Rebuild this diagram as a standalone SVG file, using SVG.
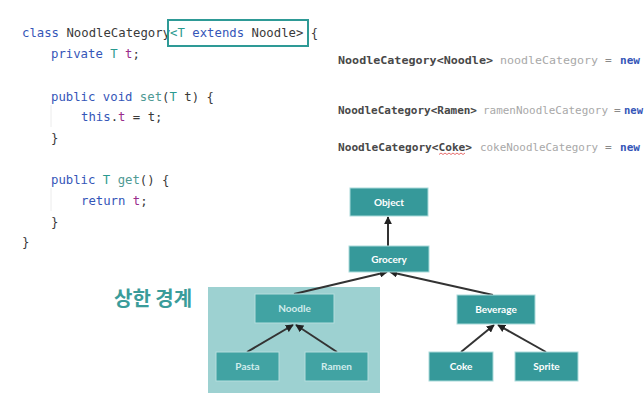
<svg xmlns="http://www.w3.org/2000/svg" width="644" height="401" viewBox="0 0 644 401">
<defs>
<style>
.code{font-family:"DejaVu Sans Mono","Liberation Mono",monospace;font-size:12.3px;fill:#3a3a3a;white-space:pre}
.code2{font-family:"DejaVu Sans Mono","Liberation Mono",monospace;font-size:11.2px;fill:#484848;white-space:pre;font-weight:bold}
.kw{fill:#3556b8}
.tp{fill:#2a9a90}
.fd{fill:#9a2c8c}
.mt{fill:#4f9a94}
.vr{fill:#a8a8a8;font-weight:normal}
.op{fill:#8a8a8a;font-weight:normal}
.node rect{fill:#36999a;stroke:#a9dada;stroke-width:1}
.node text{font-family:Lato,"Noto Sans",sans-serif;font-size:10px;font-weight:bold;fill:#ffffff;text-anchor:middle}
.inner rect{fill:#41a3a3;stroke:#b5dede}
.inner text{fill:#d2ecec}
.edge{stroke:#333;stroke-width:2;fill:none;marker-end:url(#ah)}
</style>
<marker id="ah" viewBox="0 0 10 10" refX="9" refY="5" markerWidth="4" markerHeight="4" orient="auto">
<path d="M0,0 L10,5 L0,10 z" fill="#222"/>
</marker>
</defs>
<rect width="644" height="401" fill="#ffffff"/>

<g id="code-left">
<line x1="51" y1="105" x2="51" y2="127" stroke="#ececec" stroke-width="1"/>
<line x1="51" y1="188" x2="51" y2="211" stroke="#ececec" stroke-width="1"/>
<text class="code" x="22" y="37"><tspan class="kw">class</tspan> NoodleCategory<tspan class="tp">&lt;T</tspan> <tspan class="kw">extends</tspan> Noodle&gt; {</text>
<text class="code" x="51" y="58"><tspan class="kw">private</tspan> <tspan class="tp">T</tspan> <tspan class="fd">t</tspan>;</text>
<text class="code" x="51" y="101"><tspan class="kw">public void</tspan> <tspan class="mt">set</tspan>(<tspan class="tp">T</tspan> t) {</text>
<text class="code" x="81" y="121"><tspan class="kw">this</tspan>.<tspan class="fd">t</tspan> = t;</text>
<text class="code" x="51" y="142">}</text>
<text class="code" x="51" y="184"><tspan class="kw">public</tspan> <tspan class="tp">T</tspan> <tspan class="mt">get</tspan>() {</text>
<text class="code" x="81" y="205"><tspan class="kw">return</tspan> <tspan class="fd">t</tspan>;</text>
<text class="code" x="51" y="226">}</text>
<text class="code" x="22" y="246">}</text>
<rect x="168" y="20" width="140" height="26" fill="none" stroke="#2e9a96" stroke-width="2"/>
</g>

<g id="code-right">
<text class="code2" y="64"><tspan x="338" textLength="155" lengthAdjust="spacingAndGlyphs">NoodleCategory&lt;Noodle&gt;</tspan><tspan class="vr" x="500" textLength="98" lengthAdjust="spacingAndGlyphs">noodleCategory</tspan><tspan class="op" x="605">=</tspan><tspan class="kw" x="620" textLength="20" lengthAdjust="spacingAndGlyphs">new</tspan></text>
<text class="code2" y="114"><tspan x="338" textLength="139" lengthAdjust="spacingAndGlyphs">NoodleCategory&lt;Ramen&gt;</tspan><tspan class="vr" x="483" textLength="125" lengthAdjust="spacingAndGlyphs">ramenNoodleCategory</tspan><tspan class="op" x="614">=</tspan><tspan class="kw" x="624" textLength="19" lengthAdjust="spacingAndGlyphs">new</tspan></text>
<text class="code2" y="151"><tspan x="338" textLength="134" lengthAdjust="spacingAndGlyphs">NoodleCategory&lt;Coke&gt;</tspan><tspan class="vr" x="480" textLength="118" lengthAdjust="spacingAndGlyphs">cokeNoodleCategory</tspan><tspan class="op" x="605">=</tspan><tspan class="kw" x="620" textLength="20" lengthAdjust="spacingAndGlyphs">new</tspan></text>
<path d="M439,154.5 l2,-1.5 l2,1.5 l2,-1.5 l2,1.5 l2,-1.5 l2,1.5 l2,-1.5 l2,1.5 l2,-1.5 l2,1.5 l2,-1.5 l2,1.5 l2,-1.5" fill="none" stroke="#e04848" stroke-width="0.8"/>
</g>

<g id="upper-bound">
<rect x="208" y="287" width="172" height="106" fill="#9dd1d1"/>
<text x="114" y="306" font-family="'Noto Sans CJK KR',sans-serif" font-size="20" font-weight="bold" fill="#3a9c9a">상한 경계</text>
</g>

<g id="connectors">
<line class="edge" x1="388" y1="246" x2="388" y2="217"/>
<line class="edge" x1="294" y1="294" x2="387" y2="272"/>
<line class="edge" x1="493" y1="295" x2="390" y2="272"/>
<line class="edge" x1="247" y1="352" x2="293" y2="325"/>
<line class="edge" x1="337" y1="352" x2="296" y2="325"/>
<line class="edge" x1="461" y1="352" x2="494" y2="325"/>
<line class="edge" x1="546" y1="352" x2="498" y2="325"/>
</g>

<g id="object" class="node"><rect x="350" y="188" width="78" height="28"/><text x="389" y="206">Object</text></g>
<g id="grocery" class="node"><rect x="349" y="246" width="80" height="26"/><text x="389" y="263">Grocery</text></g>
<g id="noodle" class="node inner"><rect x="255" y="294" width="79" height="29"/><text x="294.5" y="312">Noodle</text></g>
<g id="pasta" class="node inner"><rect x="216" y="352" width="63" height="29"/><text x="247.5" y="370">Pasta</text></g>
<g id="ramen" class="node inner"><rect x="305" y="352" width="63" height="29"/><text x="336.5" y="370">Ramen</text></g>
<g id="beverage" class="node"><rect x="457" y="295" width="78" height="29"/><text x="496" y="313">Beverage</text></g>
<g id="coke" class="node"><rect x="429" y="352" width="64" height="29"/><text x="461" y="370">Coke</text></g>
<g id="sprite" class="node"><rect x="515" y="352" width="63" height="29"/><text x="546.5" y="370">Sprite</text></g>
</svg>
